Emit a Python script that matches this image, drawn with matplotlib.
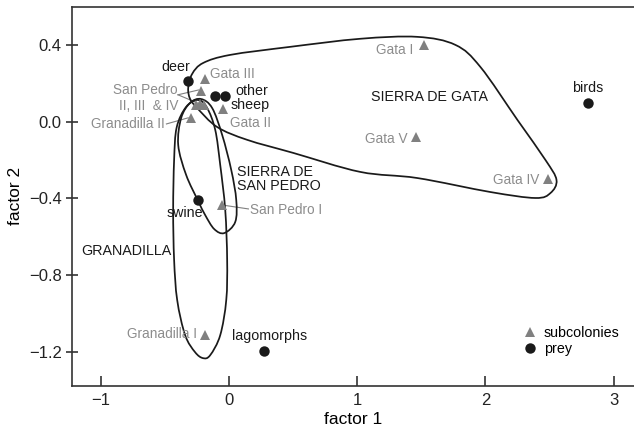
import numpy as np
import matplotlib
matplotlib.use("Agg")
import matplotlib.pyplot as plt
from matplotlib.path import Path
from matplotlib.patches import PathPatch

plt.rcParams['font.family'] = ['Liberation Sans', 'DejaVu Sans']

# prey (black circles)
prey_names = ["deer", "other", "sheep", "swine", "lagomorphs", "birds"]
prey_x = [-0.32, -0.11, -0.03, -0.24, 0.27, 2.80]
prey_y = [0.21, 0.136, 0.136, -0.41, -1.196, 0.096]

# subcolonies (grey triangles)
sub_names = ["Gata III", "San Pedro II", "San Pedro III", "San Pedro IV", "San Pedro IV b",
             "Gata II", "Granadilla II", "San Pedro I", "Granadilla I",
             "Gata I", "Gata V", "Gata IV"]
sub_x = [-0.19, -0.22, -0.26, -0.23, -0.20, -0.045, -0.30, -0.06, -0.19, 1.52, 1.46, 2.49]
sub_y = [0.22, 0.16, 0.085, 0.09, 0.085, 0.065, 0.02, -0.435, -1.11, 0.40, -0.078, -0.30]

# hand drawn outlines of the three sierras (vertices)
gata_x = [-0.25, -0.305, -0.32, -0.289, -0.203, 0.008, 0.477, 1.023, 1.469, 1.766, 1.961,
          2.25, 2.469, 2.555, 2.508, 2.39, 2.04, 1.469, 1.023, 0.5, 0.141, -0.094]
gata_y = [0.071, 0.118, 0.176, 0.249, 0.306, 0.348, 0.39, 0.432, 0.442, 0.40, 0.285,
          0.009, -0.2, -0.304, -0.372, -0.398, -0.367, -0.294, -0.262, -0.163, -0.095, -0.028]

sanpedro_x = [-0.219, -0.133, -0.055, 0.016, 0.055, 0.047, -0.039, -0.117, -0.1875,
              -0.242, -0.336, -0.398, -0.375, -0.305]
sanpedro_y = [0.118, 0.071, -0.069, -0.252, -0.408, -0.523, -0.581, -0.56, -0.487,
              -0.414, -0.278, -0.122, 0.019, 0.098]

granadilla_x = [-0.242, -0.172, -0.109, -0.07, -0.031, -0.016, -0.023, -0.07, -0.148,
                -0.203, -0.266, -0.344, -0.406, -0.43, -0.4375, -0.43, -0.41, -0.336]
granadilla_y = [0.113, 0.071, -0.043, -0.226, -0.46, -0.721, -0.93, -1.113, -1.217,
                -1.233, -1.202, -1.113, -0.93, -0.721, -0.46, -0.2, -0.03, 0.077]

x_ticks = [-1, 0, 1, 2, 3]
y_ticks = [0.4, 0.0, -0.4, -0.8, -1.2]

black = "#1a1a1a"
grey = "#808080"
grey_txt = "#8c8c8c"


def closed_curve(xs, ys):
    # smooth closed curve through the vertices (catmull-rom as bezier)
    p = np.column_stack([xs, ys])
    n = len(p)
    verts = [p[0]]
    codes = [Path.MOVETO]
    for i in range(n):
        p0, p1, p2, p3 = p[i - 1], p[i], p[(i + 1) % n], p[(i + 2) % n]
        verts += [p1 + (p2 - p0) / 6, p2 - (p3 - p1) / 6, p2]
        codes += [Path.CURVE4] * 3
    return Path(verts, codes)


fig = plt.figure(figsize=(6.34, 4.33), dpi=100)
ax = fig.add_axes([0.1136, 0.109, 1 - 0.1136, 0.984 - 0.109])

for xs, ys in [(gata_x, gata_y), (sanpedro_x, sanpedro_y), (granadilla_x, granadilla_y)]:
    ax.add_patch(PathPatch(closed_curve(xs, ys), fill=False, edgecolor=black, lw=1.25, zorder=2))

ax.plot(sub_x, sub_y, '^', color=grey, ms=7, mew=0, ls='none', zorder=3, label="subcolonies")
ax.plot(prey_x, prey_y, 'o', color=black, ms=7.5, mew=0, ls='none', zorder=4, label="prey")

fs = 10.3
fs2 = 9.8
# prey labels
ax.text(-0.42, 0.285, "deer", color=black, fontsize=fs, ha='center', va='center')
ax.text(0.047, 0.16, "other", color=black, fontsize=fs, ha='left', va='center')
ax.text(0.008, 0.087, "sheep", color=black, fontsize=fs, ha='left', va='center')
ax.text(-0.348, -0.476, "swine", color=black, fontsize=fs, ha='center', va='center')
ax.text(0.3125, -1.118, "lagomorphs", color=black, fontsize=fs, ha='center', va='center')
ax.text(2.80, 0.175, "birds", color=black, fontsize=fs, ha='center', va='center')

# subcolony labels
ax.text(-0.148, 0.249, "Gata III", color=grey_txt, fontsize=fs2, ha='left', va='center')
ax.text(-0.406, 0.165, "San Pedro", color=grey_txt, fontsize=fs2, ha='right', va='center')
ax.text(-0.398, 0.082, "II, III  & IV", color=grey_txt, fontsize=fs2, ha='right', va='center')
ax.text(-0.50, -0.012, "Granadilla II", color=grey_txt, fontsize=fs2, ha='right', va='center')
ax.text(0.008, -0.007, "Gata II", color=grey_txt, fontsize=fs2, ha='left', va='center')
ax.text(0.164, -0.46, "San Pedro I", color=grey_txt, fontsize=fs2, ha='left', va='center')
ax.text(-0.25, -1.107, "Granadilla I", color=grey_txt, fontsize=fs2, ha='right', va='center')
ax.text(1.4375, 0.374, "Gata I", color=grey_txt, fontsize=fs2, ha='right', va='center')
ax.text(1.39, -0.088, "Gata V", color=grey_txt, fontsize=fs2, ha='right', va='center')
ax.text(2.42, -0.304, "Gata IV", color=grey_txt, fontsize=fs2, ha='right', va='center')

# leader lines
ax.plot([-0.40, -0.24], [0.14, 0.165], color=grey, lw=0.8, zorder=1)
ax.plot([-0.40, -0.24], [0.14, 0.095], color=grey, lw=0.8, zorder=1)
ax.plot([-0.49, -0.32], [-0.012, 0.02], color=grey, lw=0.8, zorder=1)
ax.plot([-0.05, 0.15], [-0.435, -0.455], color=grey, lw=0.8, zorder=1)

# region names
ax.text(1.566, 0.129, "SIERRA DE GATA", color=black, fontsize=fs, ha='center', va='center')
ax.text(0.0625, -0.30, "SIERRA DE\nSAN PEDRO", color=black, fontsize=fs, ha='left', va='center',
        linespacing=1.0)
ax.text(-0.80, -0.675, "GRANADILLA", color=black, fontsize=fs, ha='center', va='center')

ax.set_xlim(-1.227, 3.16)
ax.set_ylim(-1.377, 0.598)
ax.set_xticks(x_ticks)
ax.set_xticklabels(["\u22121", "0", "1", "2", "3"])
ax.set_yticks(y_ticks)
ax.set_yticklabels(["0.4", "0.0", "\u22120.4", "\u22120.8", "\u22121.2"])
ax.tick_params(axis='x', direction='in', length=7, width=1.1, pad=5, labelsize=12, colors="#222222")
ax.tick_params(axis='y', direction='inout', length=9, width=1.1, pad=3, labelsize=12, colors="#222222")
ax.spines['right'].set_visible(False)
for s in ['left', 'top', 'bottom']:
    ax.spines[s].set_linewidth(1.2)
    ax.spines[s].set_color("#333333")

ax.set_xlabel("factor 1", fontsize=12.5, labelpad=3)
ax.set_ylabel("factor 2", fontsize=12.5, labelpad=4)

ax.legend(loc='upper left', bbox_to_anchor=(0.795, 0.172), frameon=False, fontsize=fs,
          handlelength=0.8, handletextpad=0.55, labelspacing=0.1, borderaxespad=0)

fig.savefig("out.png", dpi=100)
